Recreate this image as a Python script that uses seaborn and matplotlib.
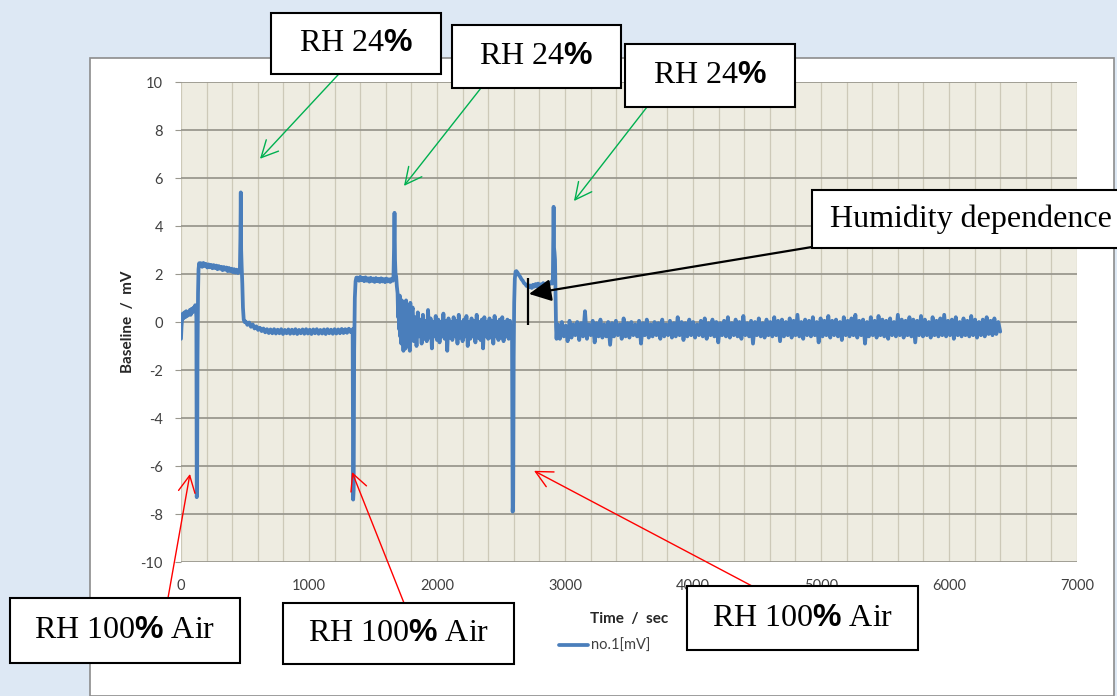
import matplotlib.pyplot as plt
import numpy as np
import seaborn as sns
from matplotlib.patches import Rectangle
from matplotlib.ticker import MultipleLocator

W, H = 1117, 696
TRACE_COLOR = "#4a7ebb"
GREEN = "#00b050"
RED = "#ff0000"

# ---- baseline trace (time in s, baseline in mV) ----
lead_t = [0, 4, 8, 14, 20, 27, 34, 41, 48, 55, 62, 69, 76, 83, 90, 97, 104, 111, 116]
lead_mv = [-0.7, -0.2, 0.1, 0.35, 0.15, 0.4, 0.2, 0.45, 0.25, 0.4, 0.3, 0.5,
           0.3, 0.55, 0.4, 0.6, 0.45, 0.7, 0.55]

dip1_t = [120, 123, 126, 129, 133, 137, 142, 148]
dip1_mv = [0.2, -7.3, -6.8, -1.5, 1.2, 2.2, 2.45, 2.35]

# logged evenly between 155 s and 455 s
plateau1_mv = [2.45, 2.3, 2.46, 2.33, 2.42, 2.27, 2.4, 2.28, 2.38, 2.24, 2.37,
               2.25, 2.35, 2.2, 2.33, 2.22, 2.3, 2.16, 2.29, 2.18, 2.27, 2.12,
               2.25, 2.12, 2.22, 2.08, 2.2, 2.06, 2.18, 2.04, 2.12]

peak1_t = [460, 464, 467, 470, 474, 479, 484, 490, 497]
peak1_mv = [2.2, 3.5, 5.4, 3.0, 2.3, 1.6, 0.6, 0.1, 0.0]

# 505 s .. 1325 s
quiet1_mv = [0.02, -0.12, -0.02, -0.2, -0.1, -0.27, -0.18, -0.33, -0.24, -0.38,
             -0.27, -0.43, -0.3, -0.46, -0.31, -0.47, -0.3, -0.48, -0.32, -0.47,
             -0.3, -0.5, -0.33, -0.47, -0.31, -0.49, -0.32, -0.48, -0.3, -0.5,
             -0.33, -0.47, -0.31, -0.49, -0.3, -0.48, -0.32, -0.5, -0.31, -0.47,
             -0.3, -0.49, -0.33, -0.48, -0.31, -0.5, -0.3, -0.47, -0.32, -0.49,
             -0.3, -0.48, -0.31, -0.47, -0.29, -0.46, -0.3, -0.45, -0.28, -0.42]

dip2_t = [1335, 1341, 1345, 1349, 1353, 1358, 1364, 1370]
dip2_mv = [-0.35, -0.3, -7.4, -7.0, -1.2, 1.0, 1.7, 1.85]

# 1380 s .. 1655 s
plateau2_mv = [1.85, 1.72, 1.88, 1.74, 1.84, 1.7, 1.86, 1.72, 1.82, 1.68, 1.84,
               1.71, 1.81, 1.67, 1.83, 1.7, 1.8, 1.67, 1.82, 1.69, 1.79, 1.66,
               1.81, 1.69, 1.78, 1.67, 1.8, 1.72]

peak2_t = [1660, 1664, 1668, 1672, 1676, 1681, 1686]
peak2_mv = [1.9, 3.0, 4.55, 2.6, 2.0, 1.9, 1.5]

# 1692 s .. 1800 s
settle2_mv = [1.2, 0.2, 1.0, -0.3, 1.1, -0.6, 0.8, -0.9, 0.9, -0.5, 0.6, -1.2,
              0.7, -0.8, 0.4, -1.1, 0.9, -0.7, 0.3, -1.0, 0.6, -0.9, 0.2, -1.2,
              0.8, -0.8, 0.3]

# 1810 s .. 2580 s
noisy2_mv = [0.6, -0.8, 0.2, -1.0, 0.4, -0.6, 0.1, -0.9, 0.3, -0.7,
             0.05, -0.8, 0.5, -0.65, 0.15, -1.1, 0.0, -0.6, 0.25, -0.75,
             0.1, -0.85, 0.0, -0.6, 0.35, -0.7, 0.05, -1.2, 0.15, -0.65,
             0.0, -0.75, 0.2, -0.6, 0.05, -0.9, 0.3, -0.65, 0.0, -0.8,
             0.1, -0.6, 0.25, -1.0, 0.0, -0.7, 0.15, -0.6, 0.05, -0.85,
             0.3, -0.65, 0.0, -0.75, 0.1, -1.1, 0.2, -0.6, 0.0, -0.7,
             0.15, -0.65, 0.05, -0.9, 0.25, -0.6, 0.0, -0.75, 0.1, -0.65,
             0.2, -0.8, 0.0, -0.6, 0.1, -0.7, 0.05, -0.55]

dip3_t = [2586, 2591, 2595, 2599, 2603, 2608, 2614, 2620]
dip3_mv = [-0.4, -7.9, -7.5, -1.5, 0.8, 1.8, 2.1, 2.12]

# 2630 s .. 2900 s
plateau3_mv = [2.05, 1.95, 1.88, 1.78, 1.72, 1.62, 1.58, 1.5, 1.55, 1.45, 1.52,
               1.42, 1.55, 1.47, 1.58, 1.48, 1.6, 1.5, 1.57, 1.49, 1.62, 1.52,
               1.6, 1.55, 1.65, 1.58, 1.66, 1.6]

peak3_t = [2905, 2908, 2911, 2914, 2918, 2922, 2926, 2930, 2934, 2938]
peak3_mv = [1.8, 3.5, 4.8, 3.1, 2.9, 2.6, 1.2, -0.2, -0.7, -0.3]

# 2945 s .. 6400 s
tail_mv = [-0.1, -0.7, 0.0, -0.6, -0.15, -0.8, 0.05, -0.65, -0.1, -0.55,
           0.0, -0.75, -0.05, -0.6, 0.45, -0.7, -0.1, -0.55, 0.05, -0.85,
           -0.05, -0.6, 0.1, -0.65, -0.1, -0.6, 0.0, -0.95, -0.05, -0.6,
           0.05, -0.55, -0.1, -0.7, 0.15, -0.6, -0.05, -0.65, 0.0, -0.55,
           -0.1, -0.6, 0.05, -0.9, -0.05, -0.55, 0.1, -0.65, -0.1, -0.6,
           0.0, -0.55, -0.05, -0.7, 0.1, -0.6, -0.1, -0.55, 0.05, -0.65,
           -0.05, -0.6, 0.2, -0.55, 0.0, -0.75, -0.05, -0.6, 0.1, -0.55,
           0.0, -0.65, -0.1, -0.55, 0.05, -0.6, 0.15, -0.7, -0.05, -0.55,
           0.1, -0.6, 0.0, -0.85, -0.05, -0.55, 0.05, -0.6, 0.2, -0.65,
           -0.05, -0.55, 0.1, -0.6, 0.0, -0.7, 0.25, -0.55, -0.05, -0.6,
           0.05, -0.9, 0.0, -0.55, 0.15, -0.6, -0.05, -0.65, 0.1, -0.55,
           0.0, -0.6, 0.2, -0.55, 0.05, -0.8, 0.1, -0.6, 0.0, -0.55,
           0.15, -0.65, 0.05, -0.55, 0.3, -0.6, 0.0, -0.7, 0.1, -0.55,
           0.05, -0.6, 0.2, -0.55, 0.0, -0.85, 0.15, -0.6, 0.05, -0.55,
           0.25, -0.65, 0.05, -0.55, 0.1, -0.6, 0.0, -0.75, 0.2, -0.55,
           0.05, -0.6, 0.15, -0.55, 0.3, -0.65, 0.05, -0.55, 0.1, -0.9,
           0.0, -0.6, 0.2, -0.55, 0.05, -0.65, 0.25, -0.55, 0.1, -0.6,
           0.05, -0.7, 0.15, -0.55, 0.0, -0.6, 0.3, -0.55, 0.1, -0.65,
           0.05, -0.55, 0.2, -0.6, 0.1, -0.85, 0.05, -0.55, 0.25, -0.6,
           0.1, -0.55, 0.0, -0.65, 0.2, -0.55, 0.05, -0.6, 0.15, -0.55,
           0.3, -0.6, 0.05, -0.55, 0.1, -0.7, 0.2, -0.55, 0.0, -0.6,
           0.15, -0.55, 0.05, -0.6, 0.25, -0.55, 0.1, -0.65, 0.0, -0.55,
           0.1, -0.6, 0.2, -0.5, 0.05, -0.55, 0.15, -0.5, 0.0, -0.4]

# annotation targets (time s, mV)
rh24_targets = [(617, 6.8), (1742, 5.67), (3070, 5.04)]
rh100_targets = [(70, -6.33), (1336, -6.25), (2758, -6.2)]
humidity_target = (2719, 1.17)
humidity_mark_t = 2713
humidity_mark_mv = (-0.12, 1.85)


def spread(t_start, t_end, values):
    return list(np.linspace(t_start, t_end, len(values))), list(values)


def fig_xy(x, y):
    return x / W, 1 - y / H


def draw_box(fig, x0, y0, x1, y1, text):
    fig.add_artist(Rectangle(fig_xy(x0, y1), (x1 - x0) / W, (y1 - y0) / H,
                             transform=fig.transFigure, facecolor="white",
                             edgecolor="black", lw=1.5, zorder=10))
    fig.text((x0 + x1) / 2 / W, 1 - (y0 + y1) / 2 / H, text, ha="center",
             va="center", fontsize=23, family="Liberation Serif",
             color="black", zorder=11)


runs = [
    (lead_t, lead_mv),
    (dip1_t, dip1_mv),
    spread(155, 455, plateau1_mv),
    (peak1_t, peak1_mv),
    spread(505, 1325, quiet1_mv),
    (dip2_t, dip2_mv),
    spread(1380, 1655, plateau2_mv),
    (peak2_t, peak2_mv),
    spread(1692, 1800, settle2_mv),
    spread(1810, 2580, noisy2_mv),
    (dip3_t, dip3_mv),
    spread(2630, 2900, plateau3_mv),
    (peak3_t, peak3_mv),
    spread(2945, 6400, tail_mv),
]
time_s = np.concatenate([r[0] for r in runs])
baseline_mv = np.concatenate([r[1] for r in runs])

sns.set_style("white")
plt.rcParams["font.family"] = ["Lato", "DejaVu Sans"]
plt.rcParams["axes.unicode_minus"] = False
plt.rcParams["mathtext.fontset"] = "custom"
plt.rcParams["mathtext.rm"] = "Liberation Serif"
plt.rcParams["mathtext.bf"] = "Liberation Sans:bold"

fig = plt.figure(figsize=(W / 100, H / 100), dpi=100)
fig.patch.set_facecolor("#dde8f4")

# white chart panel
fig.add_artist(Rectangle((90 / W, 0), (1114 - 90) / W, 1 - 58 / H,
                         transform=fig.transFigure, facecolor="white",
                         edgecolor="#8c8c8c", lw=1.2, zorder=-1))

ax = fig.add_axes([181 / W, 1 - 562 / H, (1077 - 181) / W, 480 / H])
ax.set_facecolor("#eeece1")

sns.lineplot(x=time_s, y=baseline_mv, ax=ax, color=TRACE_COLOR, lw=2.7,
             estimator=None, sort=False, label="no.1[mV]", zorder=3)

ax.set_xlim(0, 7000)
ax.set_ylim(-10, 10)
ax.xaxis.set_major_locator(MultipleLocator(1000))
ax.xaxis.set_minor_locator(MultipleLocator(200))
ax.yaxis.set_major_locator(MultipleLocator(2))
ax.grid(which="minor", axis="x", color="#cdc9b8", lw=0.9)
ax.grid(which="major", axis="x", color="#cdc9b8", lw=0.9)
ax.grid(which="major", axis="y", color="#9a988f", lw=1.3)
ax.set_axisbelow(True)
for s in ax.spines.values():
    s.set_visible(False)
ax.tick_params(axis="x", which="both", length=0, pad=12, labelsize=10.5,
               labelcolor="#404040")
ax.tick_params(axis="y", length=4, color="#9a988f", pad=9, labelsize=10.5,
               labelcolor="#404040", left=True)

ax.set_xlabel("Time  /  sec", fontsize=11, fontweight="bold", color="#262626")
ax.xaxis.set_label_coords(0.5, -0.105)
ax.set_ylabel("Baseline  /  mV", fontsize=11, fontweight="bold", color="#262626")
ax.yaxis.set_label_coords(-0.051, 0.5)

ax.legend(loc="center", bbox_to_anchor=fig_xy(605, 646),
          bbox_transform=fig.transFigure, frameon=False, fontsize=10.5,
          handlelength=2.0, handletextpad=0.2, labelcolor="#404040")

# arrows
rh24_tails = [(350, 62), (481, 88), (647, 107)]
for target, tail in zip(rh24_targets, rh24_tails):
    ax.annotate("", xy=target, xycoords="data", xytext=fig_xy(*tail),
                textcoords="figure fraction", annotation_clip=False,
                arrowprops=dict(arrowstyle="->,head_length=0.6,head_width=0.3",
                                color=GREEN, lw=1, mutation_scale=20,
                                shrinkA=0, shrinkB=0))

rh100_tails = [(168, 598), (404, 603), (752, 586)]
for target, tail in zip(rh100_targets, rh100_tails):
    ax.annotate("", xy=target, xycoords="data", xytext=fig_xy(*tail),
                textcoords="figure fraction", annotation_clip=False,
                arrowprops=dict(arrowstyle="->,head_length=0.6,head_width=0.3",
                                color=RED, lw=1, mutation_scale=20,
                                shrinkA=0, shrinkB=0))

ax.annotate("", xy=humidity_target, xycoords="data", xytext=fig_xy(812, 247),
            textcoords="figure fraction", annotation_clip=False,
            arrowprops=dict(arrowstyle="-|>,head_length=0.9,head_width=0.45",
                            color="black", lw=1.6, mutation_scale=15,
                            shrinkA=0, shrinkB=0))
ax.vlines(humidity_mark_t, *humidity_mark_mv, color="black", lw=1.6, zorder=4)

# text boxes
rh24 = r"RH 24$\mathbf{\%}$"
rh100 = r"RH 100$\mathbf{\%}$ Air"
draw_box(fig, 271, 13, 441, 74, rh24)
draw_box(fig, 452, 25, 621, 88, rh24)
draw_box(fig, 625, 44, 795, 107, rh24)
draw_box(fig, 812, 190, 1130, 248, "Humidity dependence")
draw_box(fig, 10, 598, 240, 663, rh100)
draw_box(fig, 283, 603, 514, 664, rh100)
draw_box(fig, 687, 586, 918, 650, rh100)

fig.savefig("out.png", dpi=100, facecolor=fig.get_facecolor())
